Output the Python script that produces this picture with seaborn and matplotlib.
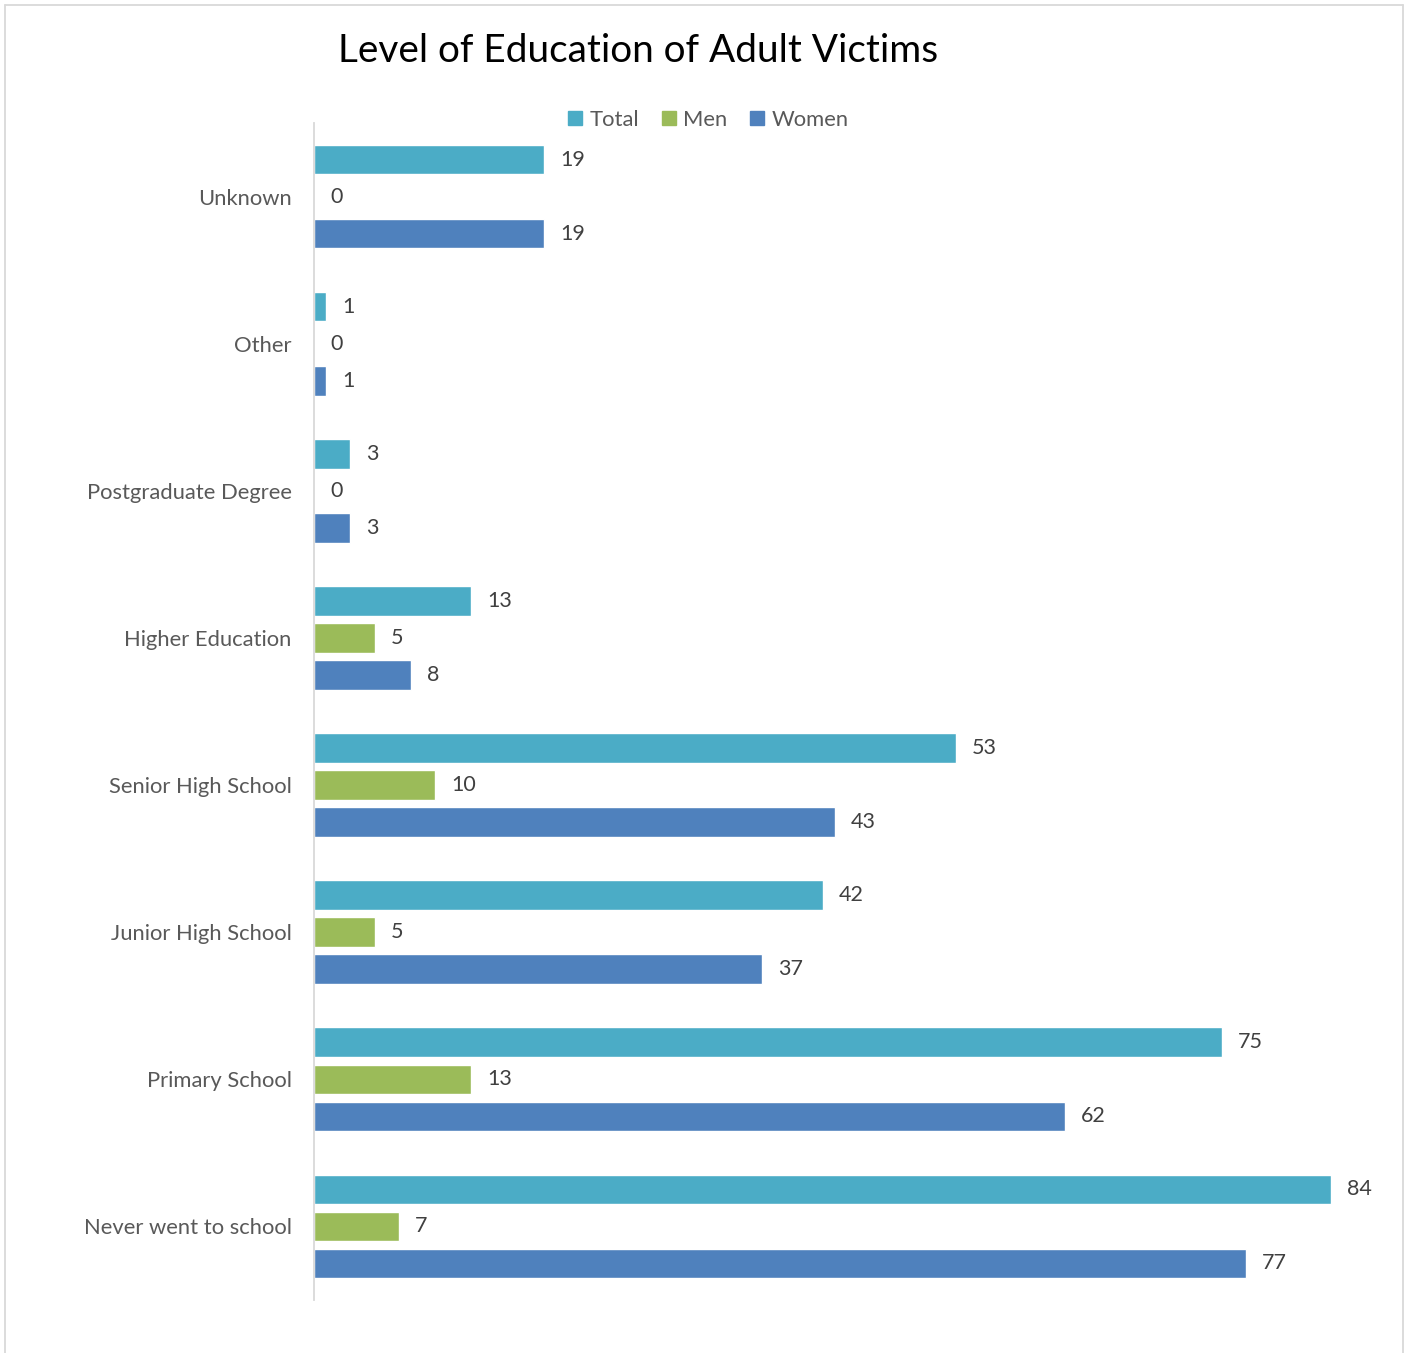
import numpy as np
import pandas as pd
import matplotlib
matplotlib.use("Agg")
import matplotlib.pyplot as plt
import seaborn as sns
from matplotlib.lines import Line2D

## data
levels = ["Unknown", "Other", "Postgraduate Degree", "Higher Education",
          "Senior High School", "Junior High School", "Primary School",
          "Never went to school"]
total = [19, 1, 3, 13, 53, 42, 75, 84]
men = [0, 0, 0, 5, 10, 5, 13, 7]
women = [19, 1, 3, 8, 43, 37, 62, 77]
series = ["Total", "Men", "Women"]
colors = ["#4BACC6", "#9BBB59", "#4F81BD"]

df = pd.DataFrame({"level": levels * 3,
                   "series": np.repeat(series, len(levels)),
                   "value": total + men + women})

sns.set_theme(style="white")
plt.rcParams["font.family"] = ["Lato", "DejaVu Sans"]

W, H = 1410, 1353
fig = plt.figure(figsize=(W / 100, H / 100), dpi=100)
ax = fig.add_axes([314 / W, 1 - 1300 / H, (1331 - 314) / W, (1300 - 123) / H])

sns.barplot(data=df, x="value", y="level", hue="series", orient="h",
            palette=colors, width=0.755, gap=0.2, saturation=1,
            legend=False, ax=ax)

ax.set_xlim(0, 84)
ax.set_ylim(7.5, -0.5)
ax.set_xlabel("")
ax.set_ylabel("")
ax.set_xticks([])
for s in ["top", "right", "bottom"]:
    ax.spines[s].set_visible(False)
ax.spines["left"].set_color("#d9d9d9")
ax.spines["left"].set_linewidth(1.3)
ax.tick_params(axis="y", length=0, pad=16, labelsize=15.8, labelcolor="#595959")

for c in ax.containers:
    for t in ax.bar_label(c, fmt="%d", padding=11.5, fontsize=15.5, color="#404040"):
        t.set_y(t.get_position()[1] + 0.01)

## legend
handles = [Line2D([], [], marker="s", ls="", markersize=10, color=col)
           for col in colors]
fig.legend(handles, series, loc="center", bbox_to_anchor=(708 / W, 1 - 120 / H),
           ncol=3, frameon=False, fontsize=15.8, labelcolor="#595959",
           handlelength=0.7, handletextpad=0.3, columnspacing=1.0)

fig.text(638 / W, 1 - 51 / H, "Level of Education of Adult Victims",
         ha="center", va="center", fontsize=27.9, color="#000000")

## chart border
for xs, ys in [([5, 5], [5, H]), ([1403, 1403], [5, H]), ([5, 1403], [5, 5])]:
    fig.add_artist(Line2D([x / W for x in xs], [1 - y / H for y in ys],
                          color="#d9d9d9", lw=1.3))

fig.savefig("out.png", dpi=100)
